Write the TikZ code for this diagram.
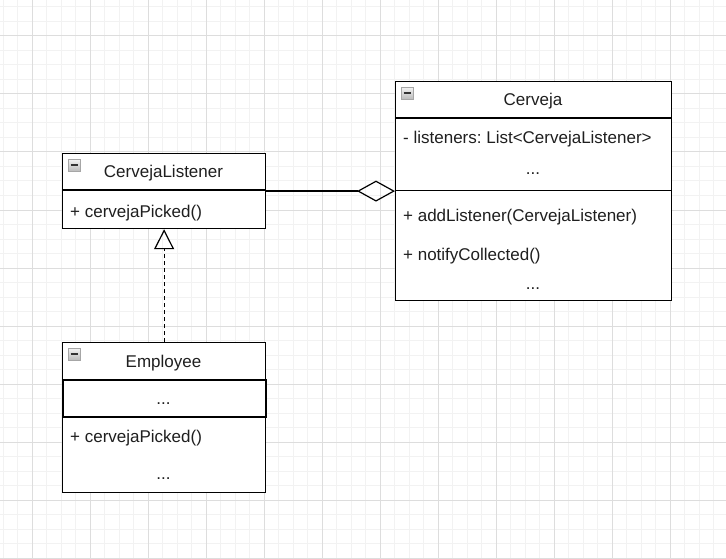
\documentclass[tikz,border=0pt]{standalone}
\usepackage{fontspec}
\setmainfont{Liberation Sans}
\usetikzlibrary{arrows.meta}
\frenchspacing
\definecolor{gridminor}{HTML}{F2F2F2}
\definecolor{gridmajor}{HTML}{DDDDDD}
\tikzset{
  umlbox/.style={draw=black, line width=1.2pt, fill=none, inner sep=0pt, anchor=north west},
  divider/.style={draw=black, line width=1.2pt},
  thickbox/.style={draw=black, line width=1.8pt, inner sep=0pt, anchor=north west},
  label/.style={font=\fontsize{17}{20}\selectfont\frenchspacing, inner sep=0pt, text=black!88},
  lefttext/.style={label, anchor=base west},
  centertext/.style={label, anchor=base},
  collapse/.style={draw=gray!70, line width=0.8pt, top color=gray!10, bottom color=gray!55, minimum width=12pt, minimum height=12pt, inner sep=0pt, anchor=north west},
  minusbar/.style={draw=black!80, line width=2pt},
  conn/.style={draw=black, line width=1.2pt},
}
\begin{document}
\begin{tikzpicture}[x=1pt,y=-1pt]
\useasboundingbox (0,0) rectangle (726,559);
\fill[white] (0,0) rectangle (726,559);
% grid
\foreach \i in {0,...,49} {\draw[gridminor, line width=1pt] (3.3+14.5*\i,0) -- (3.3+14.5*\i,559);}
\foreach \i in {0,...,38} {\draw[gridminor, line width=1pt] (0,7+14.5*\i) -- (726,7+14.5*\i);}
\foreach \i in {0,...,12} {\draw[gridmajor, line width=1pt] (32.3+58*\i,0) -- (32.3+58*\i,559);}
\foreach \i in {0,...,9} {\draw[gridmajor, line width=1pt] (0,36+58*\i) -- (726,36+58*\i);}

% CervejaListener
\node[umlbox, minimum width=203pt, minimum height=75pt, fill=white] (cl) at (62,153) {};
\draw[divider] (cl.west |- 0,190) -- (cl.east |- 0,190);
\node[collapse] (clicon) at (68,159) {};
\draw[minusbar] ([xshift=2.5pt]clicon.west) -- ([xshift=-2.5pt]clicon.east);
\node[centertext] (cltitle) at (163.5,178) {CervejaListener};
\node[lefttext] (clm1) at (70,217) {+ cervejaPicked()};

% Cerveja
\node[umlbox, minimum width=276pt, minimum height=219pt, fill=white] (cv) at (395,81) {};
\draw[divider] (cv.west |- 0,118) -- (cv.east |- 0,118);
\draw[divider] (cv.west |- 0,190.5) -- (cv.east |- 0,190.5);
\node[collapse] (cvicon) at (401,87) {};
\draw[minusbar] ([xshift=2.5pt]cvicon.west) -- ([xshift=-2.5pt]cvicon.east);
\node[centertext] (cvtitle) at (533,105.5) {Cerveja};
\node[lefttext] (cva1) at (403,144) {- listeners: List<CervejaListener>};
\node[centertext] (cva2) at (533,175) {...};
\node[lefttext] (cvm1) at (403,221.5) {+ addListener(CervejaListener)};
\node[lefttext] (cvm2) at (403,260) {+ notifyCollected()};
\node[centertext] (cvm3) at (533,289) {...};

% Employee
\node[umlbox, minimum width=203pt, minimum height=150pt, fill=white] (emp) at (62,342) {};
\node[thickbox, minimum width=203pt, minimum height=37pt] (empattr) at (62,379) {};
\node[collapse] (empicon) at (68,348) {};
\draw[minusbar] ([xshift=2.5pt]empicon.west) -- ([xshift=-2.5pt]empicon.east);
\node[centertext] (emptitle) at (163.5,367) {Employee};
\node[centertext] (empa1) at (163.5,404.5) {...};
\node[lefttext] (empm1) at (70,442) {+ cervejaPicked()};
\node[centertext] (empm2) at (163.5,479.5) {...};

% connectors
\draw[conn, line join=miter, -{Diamond[open, length=38pt, width=21pt, line width=1.2pt]}] (cl.east) -- (cv.west);
\draw[conn, dash pattern=on 4pt off 3pt, -{Triangle[open, length=20pt, width=20pt, line width=1.2pt]}] (emp.north) -- (cl.south);
\end{tikzpicture}
\end{document}
